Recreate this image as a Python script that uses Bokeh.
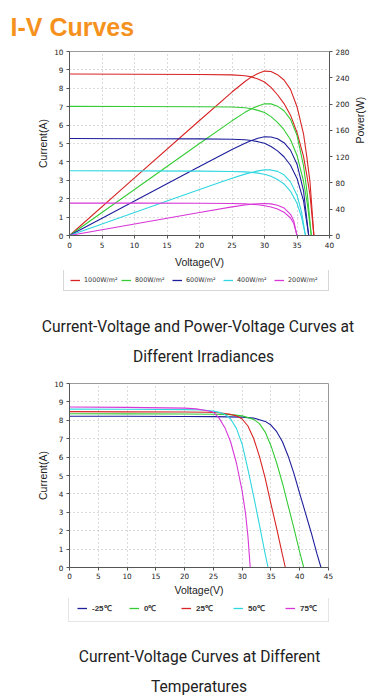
import math
from bokeh.plotting import figure
from bokeh.models import Range1d, LinearAxis, FixedTicker, Legend, LegendItem
from bokeh.core.properties import value
from bokeh.layouts import column
from bokeh.embed import file_html
from bokeh.resources import INLINE

# ---------------- data: irradiance chart ----------------
irr_labels = ["1000W/m\u00b2", "800W/m\u00b2", "600W/m\u00b2", "400W/m\u00b2", "200W/m\u00b2"]
irr_colors = ["#d82424", "#36cc36", "#1e1e9c", "#30d6e0", "#d836d8"]

v_1000 = [0, 10, 20, 25, 27, 28, 29, 30, 31, 32, 33, 34, 35, 36, 36.5, 37, 37.6]
i_1000 = [8.78, 8.76, 8.75, 8.73, 8.68, 8.62, 8.50, 8.34, 8.05, 7.65, 7.17, 6.54, 5.60, 4.30, 3.30, 2.20, 0]
p_1000 = [0, 87.6, 175, 218.3, 234.4, 241.4, 246.5, 250.2, 249.6, 244.8, 236.6, 222.4, 196.0, 154.8, 120.5, 81.4, 0]

v_800 = [0, 10, 20, 25, 27, 28, 29, 30, 31, 32, 33, 34, 35, 36, 36.6, 37.2]
i_800 = [7.02, 7.01, 7.00, 6.98, 6.94, 6.89, 6.80, 6.68, 6.46, 6.15, 5.75, 5.20, 4.35, 2.95, 1.70, 0]
p_800 = [0, 70.1, 140, 174.5, 187.4, 192.9, 197.2, 200.4, 200.3, 196.8, 189.8, 176.8, 152.3, 106.2, 62.2, 0]

v_600 = [0, 10, 20, 25, 27, 28, 29, 30, 31, 32, 33, 34, 35, 36, 36.8]
i_600 = [5.27, 5.26, 5.25, 5.23, 5.20, 5.16, 5.10, 5.01, 4.84, 4.60, 4.28, 3.82, 3.10, 1.90, 0]
p_600 = [0, 52.6, 105, 130.8, 140.4, 144.5, 147.9, 150.3, 150.0, 147.2, 141.2, 129.9, 108.5, 68.4, 0]

v_400 = [0, 10, 20, 25, 27, 28, 29, 30, 31, 32, 33, 34, 35, 35.7, 36.3]
i_400 = [3.52, 3.51, 3.50, 3.48, 3.46, 3.43, 3.39, 3.33, 3.22, 3.05, 2.80, 2.40, 1.75, 1.00, 0]
p_400 = [0, 35.1, 70, 87.0, 93.4, 96.0, 98.3, 99.9, 99.8, 97.6, 92.4, 81.6, 61.3, 35.7, 0]

v_200 = [0, 10, 20, 25, 27, 28, 29, 30, 31, 32, 33, 34, 34.5, 35]
i_200 = [1.76, 1.76, 1.75, 1.74, 1.72, 1.70, 1.67, 1.62, 1.55, 1.44, 1.27, 0.95, 0.65, 0]
p_200 = [0, 17.6, 35, 43.5, 46.4, 47.6, 48.4, 48.6, 48.1, 46.1, 41.9, 32.3, 22.4, 0]

irr_v = [v_1000, v_800, v_600, v_400, v_200]
irr_i = [i_1000, i_800, i_600, i_400, i_200]
irr_p = [p_1000, p_800, p_600, p_400, p_200]

x_ticks1 = [0, 5, 10, 15, 20, 25, 30, 35, 40]
i_ticks = [0, 1, 2, 3, 4, 5, 6, 7, 8, 9, 10]
p_ticks = [0, 40, 80, 120, 160, 200, 240, 280]

# ---------------- data: temperature chart ----------------
temp_labels = ["-25\u2103", "0\u2103", "25\u2103", "50\u2103", "75\u2103"]
temp_colors = ["#1e1e9c", "#36cc36", "#d82424", "#30d6e0", "#d836d8"]

v_m25 = [0, 10, 20, 25, 30, 32, 34, 35, 36, 37, 38, 39, 40, 41, 42, 43, 43.7]
i_m25 = [8.22, 8.22, 8.21, 8.20, 8.17, 8.12, 7.94, 7.74, 7.38, 6.83, 6.05, 5.10, 4.02, 2.96, 1.89, 0.74, 0]

v_0 = [0, 10, 20, 25, 28, 30, 32, 33, 34, 35, 36, 37, 38, 39, 40, 40.7]
i_0 = [8.36, 8.35, 8.34, 8.33, 8.31, 8.24, 8.05, 7.82, 7.36, 6.62, 5.68, 4.58, 3.35, 2.13, 0.84, 0]

v_25 = [0, 10, 20, 24, 26, 28, 29, 30, 31, 32, 33, 34, 35, 36, 37, 37.5]
i_25 = [8.47, 8.46, 8.45, 8.44, 8.41, 8.32, 8.24, 8.07, 7.69, 7.01, 6.04, 4.86, 3.46, 2.11, 0.68, 0]

v_50 = [0, 10, 20, 23, 25, 26, 27, 28, 29, 30, 31, 32, 33, 34, 34.5]
i_50 = [8.61, 8.60, 8.58, 8.56, 8.50, 8.43, 8.33, 8.07, 7.56, 6.70, 5.33, 3.87, 2.32, 0.73, 0]

v_75 = [0, 10, 20, 22, 24, 25, 26, 27, 28, 29, 30, 30.6, 31, 31.4]
i_75 = [8.72, 8.70, 8.66, 8.62, 8.52, 8.44, 8.12, 7.60, 6.82, 5.68, 4.15, 2.90, 1.70, 0]

temp_v = [v_m25, v_0, v_25, v_50, v_75]
temp_i = [i_m25, i_0, i_25, i_50, i_75]

x_ticks2 = [0, 5, 10, 15, 20, 25, 30, 35, 40, 45]

title_text = "I-V Curves"
cap1 = ["Current-Voltage and Power-Voltage Curves at", "Different Irradiances"]
cap2 = ["Current-Voltage Curves at Different", "Temperatures"]

TICK_FONT = "DejaVu Sans"
LABEL_FONT = "Liberation Sans"
CAP_FONT = "Roboto"
CAP_SIZE = "15.6px"
W = 375
NAN = float("nan")


def no_align(p):
    if "frame_align" in p.properties():
        p.frame_align = False


def style_axis(ax, ticks, std, lstd=3):
    ax.ticker = FixedTicker(ticks=ticks)
    ax.axis_line_color = "#555555"
    ax.major_tick_line_color = "#555555"
    ax.major_tick_out = 3
    ax.major_tick_in = 0
    ax.minor_tick_line_color = None
    ax.major_label_text_font = TICK_FONT
    ax.major_label_text_font_size = "7.3px"
    ax.major_label_text_color = "#222222"
    ax.major_label_standoff = lstd
    ax.axis_label_text_font = LABEL_FONT
    ax.axis_label_text_font_size = "10.5px"
    ax.axis_label_text_font_style = "normal"
    ax.axis_label_text_color = "#222222"
    ax.axis_label_standoff = std


def chart_fig(h, xr, mb):
    p = figure(width=W, height=h, x_range=xr, y_range=Range1d(0, 10),
               output_backend="svg", toolbar_location=None,
               min_border_left=mb[0], min_border_right=mb[1],
               min_border_top=mb[2], min_border_bottom=mb[3])
    no_align(p)
    p.outline_line_color = "#999999"
    p.background_fill_color = "white"
    p.border_fill_color = "white"
    for g in (p.xgrid[0], p.ygrid[0]):
        g.grid_line_color = "#b8b8b8"
        g.grid_line_dash = "1 3"
    return p


def text_strip(h):
    # a bare canvas whose scales run in pixels from the top-left corner
    p = figure(width=W, height=h, x_range=Range1d(0, W), y_range=Range1d(h, 0),
               output_backend="svg", toolbar_location=None, min_border=0,
               x_axis_location=None, y_axis_location=None)
    no_align(p)
    p.grid.visible = False
    p.outline_line_color = None
    p.background_fill_color = "white"
    p.border_fill_color = "white"
    return p


# ---------------- title strip ----------------
t0 = text_strip(46)
t0.text(x=[10], y=[26], text=[title_text], text_font=value(LABEL_FONT),
        text_font_size=value("25px"), text_font_style="bold", text_color="#f5921e",
        text_align="left", text_baseline="alphabetic")

# ---------------- figure 1 ----------------
p1 = chart_fig(224, Range1d(0, 40), (69, 46, 5, 34))
p1.extra_y_ranges = {"power": Range1d(0, 280)}
style_axis(p1.xaxis[0], x_ticks1, 5)
p1.xaxis[0].axis_label = "Voltage(V)"
style_axis(p1.yaxis[0], i_ticks, 2)
p1.yaxis[0].axis_label = "Current(A)"
rax = LinearAxis(y_range_name="power", axis_label="Power(W)")
style_axis(rax, p_ticks, 8)
if "axis_label_orientation" in rax.properties():
    rax.axis_label_orientation = math.pi / 2
p1.add_layout(rax, "right")

for col, vv, ii, pp in zip(irr_colors, irr_v, irr_i, irr_p):
    p1.line(vv, ii, line_color=col, line_width=1.1)
    p1.line(vv, pp, line_color=col, line_width=1.1, y_range_name="power")

# ---------------- legend + caption strip 1 ----------------
t1 = text_strip(100)
items1 = []
for lab, col in zip(irr_labels, irr_colors):
    r = t1.line(x=[NAN], y=[NAN], line_color=col, line_width=1.3)
    items1.append(LegendItem(label=lab, renderers=[r]))
leg1 = Legend(items=items1, orientation="horizontal", location=(63, 79),
              margin=0, padding=6, spacing=3, glyph_width=10, glyph_height=8,
              label_standoff=4, label_width=34, label_height=8,
              label_text_font=TICK_FONT, label_text_font_size="6.4px",
              label_text_color="#333333", border_line_color="#b0b0b0",
              background_fill_color="white")
t1.add_layout(leg1, "center")
t1.text(x=[197.5, 203], y=[56.7, 86], text=cap1, text_font=value(CAP_FONT),
        text_font_size=value(CAP_SIZE), text_color="#222222",
        text_align="center", text_baseline="alphabetic")

# ---------------- figure 2 ----------------
p2 = chart_fig(228, Range1d(0, 45), (69, 47, 13, 29))
style_axis(p2.xaxis[0], x_ticks2, 2, 2)
p2.xaxis[0].axis_label = "Voltage(V)"
style_axis(p2.yaxis[0], i_ticks, 2)
p2.yaxis[0].axis_label = "Current(A)"

for col, vv, ii in zip(temp_colors, temp_v, temp_i):
    p2.line(vv, ii, line_color=col, line_width=1.1)

# ---------------- legend + caption strip 2 ----------------
t2 = text_strip(98)
items2 = []
for lab, col in zip(temp_labels, temp_colors):
    r = t2.line(x=[NAN], y=[NAN], line_color=col, line_width=1.3)
    items2.append(LegendItem(label=lab, renderers=[r]))
leg2 = Legend(items=items2, orientation="horizontal", location=(68, 74),
              margin=0, padding=8, spacing=17, glyph_width=10, glyph_height=8,
              label_standoff=5, label_width=20, label_height=8,
              label_text_font=LABEL_FONT, label_text_font_size="8px",
              label_text_font_style="bold",
              label_text_color="#333333", border_line_color="#cccccc",
              background_fill_color="white")
t2.add_layout(leg2, "center")
t2.text(x=[199, 198.5], y=[58.7, 88], text=cap2, text_font=value(CAP_FONT),
        text_font_size=value(CAP_SIZE), text_color="#222222",
        text_align="center", text_baseline="alphabetic")

layout = column(t0, p1, t1, p2, t2, spacing=0)
open("out.html", "w").write(file_html(layout, INLINE))
